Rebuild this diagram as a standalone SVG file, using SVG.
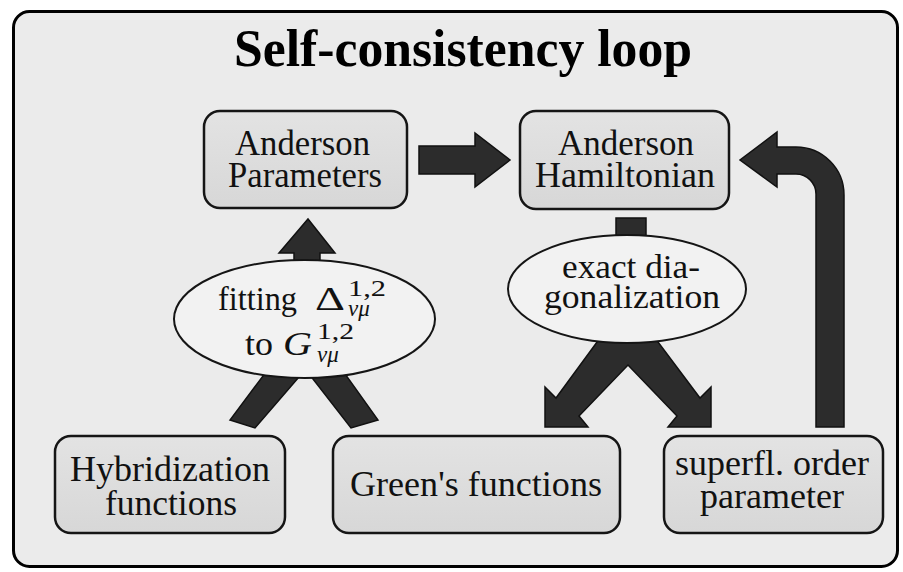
<svg xmlns="http://www.w3.org/2000/svg" width="903" height="572" viewBox="0 0 903 572">
<defs>
<linearGradient id="boxg" x1="0" y1="0" x2="0" y2="1">
<stop offset="0" stop-color="#e3e3e3"/>
<stop offset="1" stop-color="#d7d7d7"/>
</linearGradient>
</defs>
<style>
.frame{fill:#ebebeb;stroke:#000;stroke-width:3}
.box{fill:url(#boxg);stroke:#151515;stroke-width:2.5}
.ell{fill:#f2f2f2;stroke:#151515;stroke-width:2}
.arr{fill:#2c2c2c;stroke:#111;stroke-width:1.5;stroke-linejoin:miter}
.t{font-family:"Liberation Serif","Times New Roman",serif;font-size:36px;fill:#111;text-anchor:middle}
.title{font-family:"Liberation Serif","Times New Roman",serif;font-size:52px;font-weight:bold;fill:#000;text-anchor:middle}
.m{font-family:"Liberation Serif","Times New Roman",serif;font-size:33px;fill:#111}
.s{font-family:"Liberation Serif","Times New Roman",serif;font-size:23px;fill:#111}
.i{font-style:italic}
</style>
<rect class="frame" x="13.5" y="11.5" width="884" height="555" rx="16"/>
<text class="title" x="463" y="66" textLength="458" lengthAdjust="spacingAndGlyphs">Self-consistency loop</text>
<g id="connectors">
<polygon class="arr" points="419,146 475,146 475,133 510,160 475,187 475,174 419,174"/>
<path class="arr" d="M816,427 L844,427 L844,195 A48,48 0 0 0 796,147 L777,147 L777,132 L740,160 L777,187 L777,174 L796,174 A20,20 0 0 1 816,194 Z"/>
<polygon class="arr" points="294,270 294,253 279,253 308,219 335,253 320,253 320,270"/>
<polygon class="arr" points="230,420 255,428 305,370 272,364"/>
<polygon class="arr" points="378,420 351,428 306,370 338,364"/>
<rect class="arr" x="616" y="218" width="30" height="25"/>
<polygon class="arr" points="545,427 588,427 579,416 628,365 677,416 668,427 711,427 711,387 700,398 655,338 600,338 556,398 545,387"/>
</g>
<g id="anderson-parameters">
<rect class="box" x="204" y="111" width="203" height="97" rx="16"/>
<text class="t" x="302.5" y="155" textLength="135" lengthAdjust="spacingAndGlyphs">Anderson</text>
<text class="t" x="305" y="187" textLength="154" lengthAdjust="spacingAndGlyphs">Parameters</text>
</g>
<g id="anderson-hamiltonian">
<rect class="box" x="520" y="111" width="209" height="98" rx="16"/>
<text class="t" x="626" y="155" textLength="136" lengthAdjust="spacingAndGlyphs">Anderson</text>
<text class="t" x="625" y="187" textLength="180" lengthAdjust="spacingAndGlyphs">Hamiltonian</text>
</g>
<g id="fitting">
<ellipse class="ell" cx="304.5" cy="319" rx="130.5" ry="59"/>
<text class="m" x="218" y="310" textLength="79" lengthAdjust="spacingAndGlyphs">fitting</text>
<text class="m" x="315" y="310" textLength="30" lengthAdjust="spacingAndGlyphs">Δ</text>
<text class="s" x="348" y="296" textLength="38" lengthAdjust="spacingAndGlyphs">1,2</text>
<text class="s i" x="348" y="316">νμ</text>
<text class="m" x="245" y="355" textLength="28" lengthAdjust="spacingAndGlyphs">to</text>
<text class="m i" x="283" y="355" textLength="29" lengthAdjust="spacingAndGlyphs">G</text>
<text class="s" x="317" y="339" textLength="37" lengthAdjust="spacingAndGlyphs">1,2</text>
<text class="s i" x="317" y="362">νμ</text>
</g>
<g id="exact-diagonalization">
<ellipse class="ell" cx="627" cy="289" rx="119" ry="54"/>
<text class="m" x="631" y="278" text-anchor="middle" textLength="138" lengthAdjust="spacingAndGlyphs">exact dia-</text>
<text class="m" x="632" y="308" text-anchor="middle" textLength="176" lengthAdjust="spacingAndGlyphs">gonalization</text>
</g>
<g id="hybridization-functions">
<rect class="box" x="55" y="436" width="230" height="97" rx="16"/>
<text class="t" x="170" y="481" textLength="200" lengthAdjust="spacingAndGlyphs">Hybridization</text>
<text class="t" x="171" y="515" textLength="132" lengthAdjust="spacingAndGlyphs">functions</text>
</g>
<g id="greens-functions">
<rect class="box" x="333" y="436" width="287" height="97" rx="16"/>
<text class="t" x="476" y="496" textLength="252" lengthAdjust="spacingAndGlyphs">Green's functions</text>
</g>
<g id="superfl-order-parameter">
<rect class="box" x="664" y="436" width="219" height="97" rx="16"/>
<text class="t" x="772" y="475" textLength="194" lengthAdjust="spacingAndGlyphs">superfl. order</text>
<text class="t" x="772" y="508" textLength="144" lengthAdjust="spacingAndGlyphs">parameter</text>
</g>
</svg>
